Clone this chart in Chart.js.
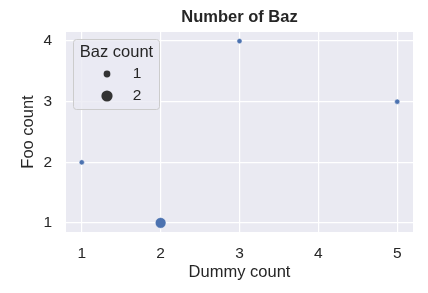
<!DOCTYPE html>
<html>
<head>
<meta charset="utf-8">
<script src="https://cdn.jsdelivr.net/npm/chart.js@4"></script>
<style>
  html, body { margin: 0; padding: 0; background: #fff; }
  canvas { display: block; }
</style>
</head>
<body>
<canvas id="chart" width="428" height="293"></canvas>
<script>
// --- data ---
const dummyCount = [1, 2, 3, 5];
const fooCount = [2, 1, 4, 3];
const bazCount = [1, 2, 1, 1];
const xTicks = [1, 2, 3, 4, 5];
const yTicks = [1, 2, 3, 4];
const legendSizes = [1, 2];

// marker radius per baz count
const radiusFor = { 1: 2.6, 2: 5.4 };
const legendRadiusFor = { 1: 3.4, 2: 5.6 };

const FONT = "'Liberation Sans', Arial, sans-serif";

const points = dummyCount.map((x, i) => ({ x: x, y: fooCount[i] }));

// plot background + title + legend
const decor = {
  id: "decor",
  beforeDraw(chart) {
    const { ctx, chartArea: a } = chart;
    ctx.save();
    ctx.fillStyle = "#eaeaf2";
    ctx.fillRect(a.left, a.top, a.right - a.left, a.bottom - a.top);
    ctx.restore();
  },
  afterDraw(chart) {
    const { ctx, chartArea: a } = chart;
    ctx.save();
    ctx.fillStyle = "#262626";
    ctx.font = "bold 16.5px " + FONT;
    ctx.textAlign = "center";
    ctx.textBaseline = "middle";
    ctx.fillText("Number of Baz", (a.left + a.right) / 2, 17);

    // legend box
    const bx = 73.5, by = 39.5, bw = 86, bh = 70, r = 3;
    ctx.beginPath();
    ctx.roundRect(bx, by, bw, bh, r);
    ctx.fillStyle = "rgba(234,234,242,0.8)";
    ctx.fill();
    ctx.strokeStyle = "#cccccc";
    ctx.lineWidth = 1;
    ctx.stroke();

    ctx.fillStyle = "#262626";
    ctx.font = "16.5px " + FONT;
    ctx.fillText("Baz count", bx + bw / 2, 52);

    ctx.font = "15.5px " + FONT;
    legendSizes.forEach((s, i) => {
      const cy = 74 + i * 22;
      ctx.beginPath();
      ctx.arc(107, cy, legendRadiusFor[s], 0, Math.PI * 2);
      ctx.fillStyle = "#333333";
      ctx.fill();
      ctx.fillStyle = "#262626";
      ctx.fillText(String(s), 137, cy);
    });
    ctx.restore();
  }
};

new Chart(document.getElementById("chart"), {
  type: "scatter",
  data: {
    datasets: [{
      label: "Baz count",
      data: points,
      backgroundColor: "#4c72b0",
      borderColor: "#ffffff",
      borderWidth: 0.5,
      pointRadius: bazCount.map(b => radiusFor[b]),
      pointHoverRadius: bazCount.map(b => radiusFor[b])
    }]
  },
  options: {
    responsive: false,
    animation: false,
    layout: { padding: { top: 32, right: 15, left: 19, bottom: 11 } },
    plugins: {
      legend: { display: false },
      title: { display: false },
      tooltip: { enabled: false }
    },
    scales: {
      x: {
        type: "linear",
        min: 0.8,
        max: 5.2,
        afterBuildTicks: s => { s.ticks = xTicks.map(v => ({ value: v })); },
        afterFit: s => { s.height = 50; },
        grid: { color: "#ffffff", lineWidth: 1.2, drawTicks: false },
        border: { display: false },
        ticks: { color: "#262626", font: { family: FONT, size: 15.5 }, padding: 12 },
        title: { display: true, text: "Dummy count", color: "#262626", font: { family: FONT, size: 16.5 }, padding: { top: 0, bottom: 0 } }
      },
      y: {
        type: "linear",
        min: 0.85,
        max: 4.15,
        afterBuildTicks: s => { s.ticks = yTicks.map(v => ({ value: v })); },
        afterFit: s => { s.width = 47; },
        grid: { color: "#ffffff", lineWidth: 1.2, drawTicks: false },
        border: { display: false },
        ticks: { color: "#262626", font: { family: FONT, size: 15.5 }, padding: 14 },
        title: { display: true, text: "Foo count", color: "#262626", font: { family: FONT, size: 16.5 }, padding: { top: 0, bottom: 0 } }
      }
    }
  },
  plugins: [decor]
});
</script>
</body>
</html>
